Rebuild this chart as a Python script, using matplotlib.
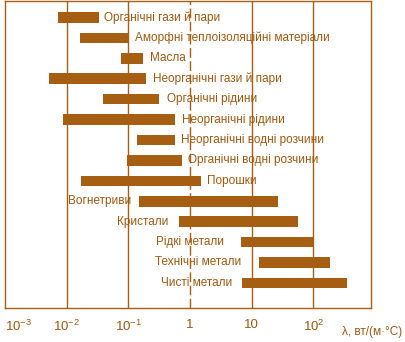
import matplotlib
matplotlib.use("Agg")
import matplotlib.pyplot as plt
import numpy as np

# Thermal conductivity ranges of material groups, W/(m·°C)
materials = [
    "Органічні гази й пари",
    "Аморфні теплоізоляційні матеріали",
    "Масла",
    "Неорганічні гази й пари",
    "Органічні рідини",
    "Неорганічні рідини",
    "Неорганічні водні розчини",
    "Органічні водні розчини",
    "Порошки",
    "Вогнетриви",
    "Кристали",
    "Рідкі метали",
    "Технічні метали",
    "Чисті метали",
]
lam_min = [0.0072, 0.0165, 0.075, 0.0051, 0.039, 0.0087, 0.137, 0.096,
           0.017, 0.148, 0.67, 6.7, 13.1, 6.9]
lam_max = [0.033, 0.097, 0.17, 0.19, 0.31, 0.58, 0.58, 0.74,
           1.49, 26.7, 56.5, 100, 187, 356]
label_side = ["right"] * 9 + ["left"] * 5

tick_values = [1e-3, 1e-2, 1e-1, 1, 10, 100]
tick_labels = [r"$10^{-3}$", r"$10^{-2}$", r"$10^{-1}$", "1", "10", r"$10^{2}$"]

# gap between bar end and its caption, pixels
label_gap = [5, 7, 7, 7, 8, 7, 6, 6, 6, 8, 11, 17, 18, 10]

BROWN = "#A65E12"
TEXT = "#9C5810"
FONT = ["Liberation Sans Narrow", "Liberation Sans", "DejaVu Sans"]
plt.rcParams["font.family"] = FONT
plt.rcParams["mathtext.fontset"] = "custom"
plt.rcParams["mathtext.rm"] = "Liberation Sans"
plt.rcParams["mathtext.it"] = "Liberation Sans"
plt.rcParams["mathtext.default"] = "rm"

fig = plt.figure(figsize=(4.06, 3.42), dpi=100)
ax = fig.add_axes([5.2 / 406, 1 - 308 / 342, (371 - 5.2) / 406, 307 / 342])

ax.set_xscale("log")
ax.set_xlim(1e-3, 10 ** 2.936)
n = len(materials)
ypos = np.arange(n)
ax.set_ylim(n - 1 + 1.23, -0.81)

# vertical reference lines at each decade
for v in [1e-2, 1e-1, 10, 100]:
    ax.axvline(v, color=BROWN, lw=1.0, zorder=1)
ax.axvline(1, color=BROWN, lw=1.0, ls=(0, (7, 2.5)), zorder=1)

lefts = np.array(lam_min)
widths = np.array(lam_max) - lefts
ax.barh(ypos, widths, left=lefts, height=0.52, color=BROWN, zorder=2)

for y, name, lo, hi, side, gap in zip(ypos, materials, lam_min, lam_max,
                                      label_side, label_gap):
    if side == "right":
        ax.annotate(name, (hi, y), xytext=(gap, 0), textcoords="offset pixels",
                    ha="left", va="center", color=TEXT, fontsize=8.5)
    else:
        ax.annotate(name, (lo, y), xytext=(-gap, 0), textcoords="offset pixels",
                    ha="right", va="center", color=TEXT, fontsize=8.5)

ax.set_yticks([])
ax.set_xticks(tick_values)
ax.set_xticklabels(tick_labels)
ax.xaxis.set_minor_locator(matplotlib.ticker.NullLocator())
ax.tick_params(axis="x", length=0, pad=8, labelsize=9.5, labelcolor=TEXT)
first = ax.get_xticklabels()[0]
first.set_horizontalalignment("left")
for s in ax.spines.values():
    s.set_color(BROWN)
    s.set_linewidth(1.0)

fig.text(342 / 406, 1 - 332 / 342, "λ, вт/(м·°C)", color=TEXT, fontsize=8.5,
         ha="left", va="center")

fig.savefig("out.png", dpi=100)
